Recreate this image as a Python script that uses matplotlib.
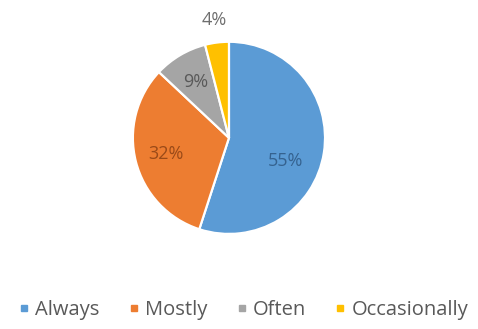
import matplotlib
matplotlib.use('Agg')
import matplotlib.pyplot as plt
from matplotlib.lines import Line2D

categories = ['Always', 'Mostly', 'Often', 'Occasionally']
shares = [55, 32, 9, 4]
colors = ['#5B9BD5', '#ED7D31', '#A5A5A5', '#FFC000']
label_colors = ['#35628F', '#9A4A18', '#595959', '#6E6E6E']

plt.rcParams['font.family'] = ['Open Sans', 'DejaVu Sans']

fig = plt.figure(figsize=(4.78, 3.29), dpi=100)
ax = fig.add_axes([0.278, 0.289, 0.402, 0.584])

wedges, _, pcts = ax.pie(shares, colors=colors, startangle=90, counterclock=False,
                         autopct='%1.0f%%', pctdistance=0.68, radius=1,
                         wedgeprops=dict(edgecolor='white', linewidth=1.6))
for t, c in zip(pcts, label_colors):
    t.set_color(c)
    t.set_fontsize(13)

# Excel puts the big label a bit lower, and the tiny slice label outside
x, y = pcts[0].get_position()
pcts[0].set_position((x - 0.08, y - 0.13))
x, y = pcts[3].get_position()
pcts[3].set_position((x * 1.82, y * 1.82))

ax.set_xlim(-1, 1)
ax.set_ylim(-1, 1)
ax.set_aspect('equal')
ax.axis('off')

handles = [Line2D([], [], marker='s', linestyle='none', markersize=5,
                  markerfacecolor=c, markeredgecolor=c) for c in colors]
fig.legend(handles, categories, loc='center', bbox_to_anchor=(0.51, 0.058),
           ncol=4, frameon=False, fontsize=14.5, labelcolor='#595959',
           handlelength=0.5, handletextpad=0.3, columnspacing=1.45)

fig.savefig('out.png', dpi=100, facecolor='white')
